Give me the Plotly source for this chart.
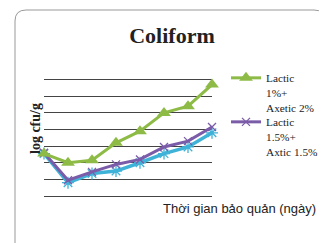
import plotly.graph_objects as go

days = [0, 1, 2, 3, 4, 5, 6, 7]
lactic1_axetic2 = [2.55, 2.0, 2.15, 3.2, 3.9, 5.0, 5.4, 6.7]
lactic15_axtic15 = [2.6, 0.95, 1.45, 1.9, 2.2, 2.95, 3.3, 4.15]
third_series = [2.55, 0.8, 1.35, 1.5, 2.0, 2.55, 2.95, 3.8]
legend_names = ["Lactic<br>1%+<br>Axetic 2%", "Lactic<br>1.5%+<br>Axtic 1.5%"]

# page is 327x243; the html body has an 8px margin
OFF = 8
W, H = 327 - OFF, 243 - OFF
L, R, T, B = 44, 212, 63, 196  # plot area in page pixels
PW, PH = R - L, B - T


def px(x):
    return (x - L) / PW


def py(y):
    return (B - y) / PH


fig = go.Figure()
fig.add_trace(go.Scatter(x=days, y=third_series, mode="lines+markers", showlegend=False,
                         line=dict(color="#3FB2D8", width=3.5),
                         marker=dict(symbol="asterisk-open", size=10, line=dict(color="#3FB2D8", width=1.3)),
                         cliponaxis=False))
fig.add_trace(go.Scatter(x=days, y=lactic15_axtic15, mode="lines+markers", name=legend_names[1],
                         legend="legend2",
                         line=dict(color="#7B5CA8", width=3),
                         marker=dict(symbol="x-thin-open", size=8, line=dict(color="#7B5CA8", width=1.3)),
                         cliponaxis=False))
fig.add_trace(go.Scatter(x=days, y=lactic1_axetic2, mode="lines+markers", name=legend_names[0],
                         legend="legend",
                         line=dict(color="#8DBB46", width=3),
                         marker=dict(symbol="triangle-up", size=12, color="#8DBB46"),
                         cliponaxis=False))

r = 11
x0, x1, y0, y1 = 15, 325, 10, 260
path = (f"M {px(x0)},{py(y1)} L {px(x0)},{py(y0 + r)} "
        f"Q {px(x0)},{py(y0)} {px(x0 + r)},{py(y0)} L {px(x1 - r)},{py(y0)} "
        f"Q {px(x1)},{py(y0)} {px(x1)},{py(y0 + r)} L {px(x1)},{py(y1)}")

legend_style = dict(xanchor="left", yanchor="top", valign="top", bgcolor="rgba(0,0,0,0)",
                    font=dict(family="Liberation Serif", size=11.3, color="#222"), itemwidth=30)

fig.update_layout(
    width=W, height=H,
    margin=dict(l=L - OFF, r=327 - R, t=T - OFF, b=243 - B, autoexpand=False),
    paper_bgcolor="white", plot_bgcolor="white",
    showlegend=True,
    title=dict(text="<b>Coliform</b>", x=(172 - OFF) / W, xref="container", xanchor="center",
               y=1 - (35 - OFF) / H, yref="container", yanchor="middle",
               font=dict(family="Liberation Serif", size=22, color="#222")),
    xaxis=dict(range=[0, 7], showticklabels=False, showgrid=False, zeroline=False,
               showline=False, ticks=""),
    yaxis=dict(range=[0, 8], dtick=1, showticklabels=False, showgrid=True,
               gridcolor="#444", gridwidth=1.2, zeroline=True, zerolinecolor="#444",
               zerolinewidth=1.2, showline=False, ticks=""),
    legend=dict(x=px(226), y=py(64), **legend_style),
    legend2=dict(x=px(226), y=py(108), **legend_style),
    annotations=[
        dict(text="<b>log cfu/g</b>", textangle=-90, x=px(35), y=py(129), xref="paper", yref="paper",
             showarrow=False, xanchor="center", yanchor="middle",
             font=dict(family="Liberation Serif", size=14, color="#222")),
        dict(text="Thời gian bảo quản (ngày)", x=px(318), y=py(208), xref="paper", yref="paper",
             showarrow=False, xanchor="right", yanchor="middle",
             font=dict(family="Liberation Sans", size=13, color="#222")),
    ],
    shapes=[dict(type="path", path=path, xref="paper", yref="paper",
                 line=dict(color="#999", width=1))],
)

fig.write_html("out.html")
